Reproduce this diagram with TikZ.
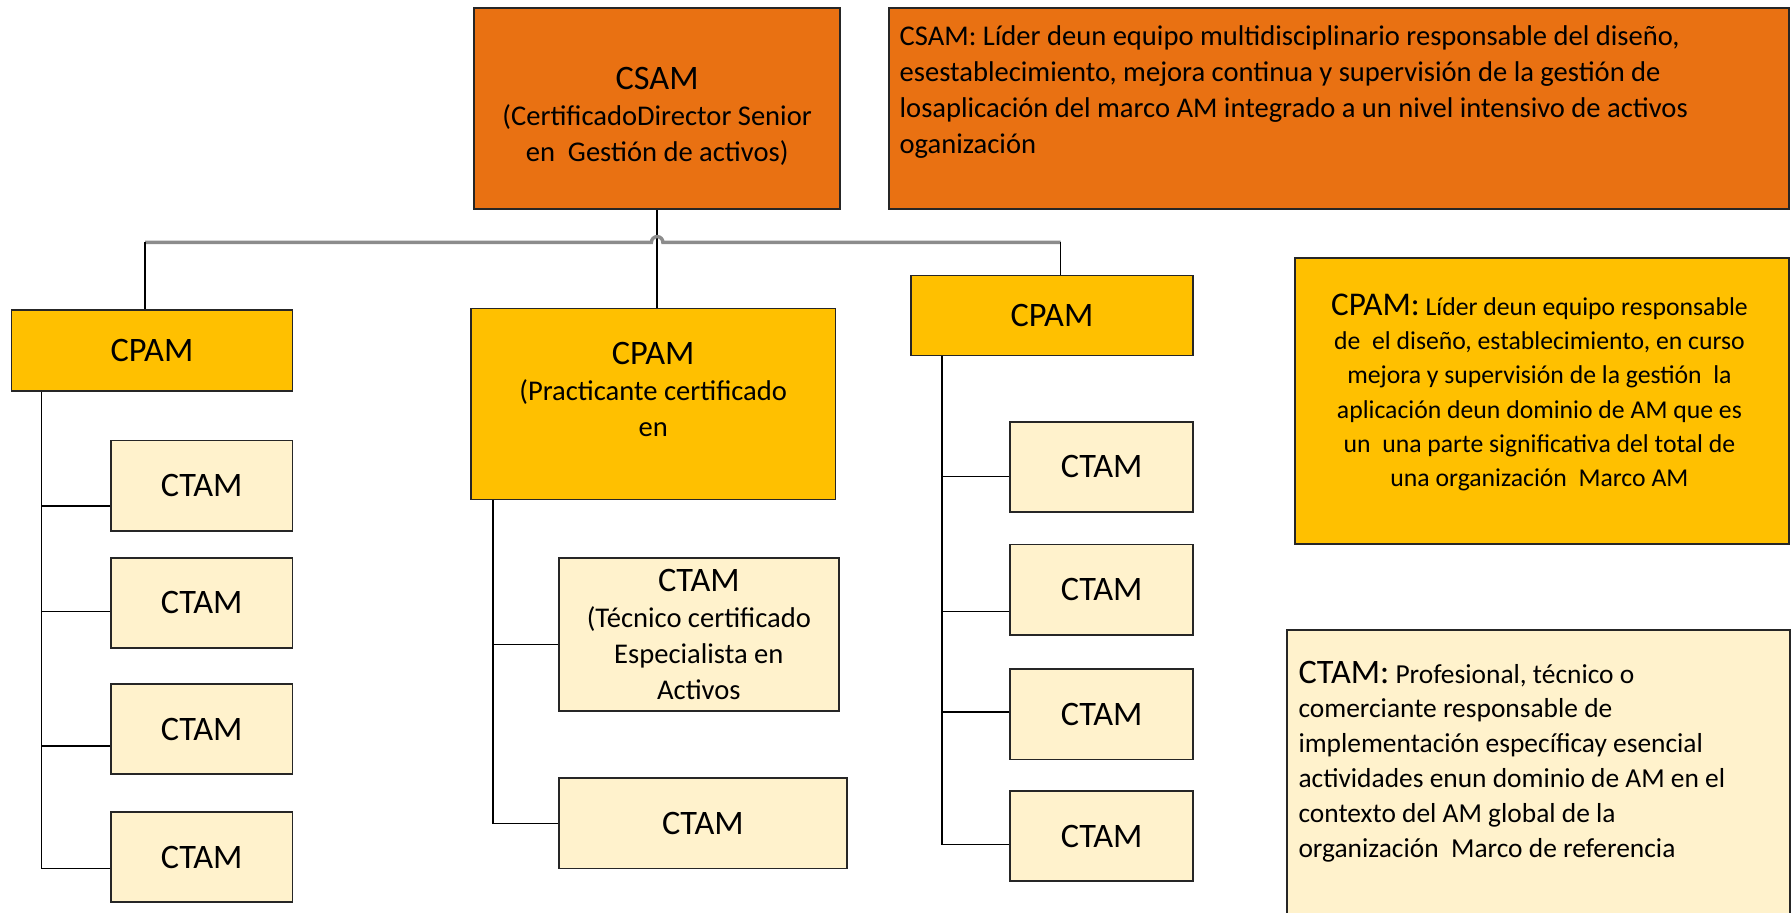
\documentclass[tikz,border=0pt]{standalone}
\usepackage{fontspec}
\setmainfont{Carlito}
\usepackage{xcolor}
\definecolor{csamorange}{HTML}{E97112}
\definecolor{cpamgold}{HTML}{FFC000}
\definecolor{ctamcream}{HTML}{FFF2CC}
\definecolor{busgray}{HTML}{8C8C8C}
\definecolor{edgeblack}{HTML}{262626}
\newcommand{\certname}[1]{{\fontsize{30}{31.5}\selectfont #1}}

\begin{document}
\begin{tikzpicture}[x=1pt,y=-1pt]
			%\draw[help lines] (0,0) grid (1568,798);
			\useasboundingbox (0,0) rectangle (1568,798);
			
			\tikzset{
				box/.style={draw=edgeblack, line width=1.6pt, inner sep=0pt, align=center,
					font=\fontsize{25}{31.5}\selectfont},
				csambox/.style={box, fill=csamorange},
				cpambox/.style={box, fill=cpamgold},
				ctambox/.style={box, fill=ctamcream, minimum width=159pt, minimum height=79pt},
				boxtext/.style={inner sep=0pt, align=center, font=\fontsize{25}{31.5}\selectfont},
				notetext/.style={inner sep=0pt, align=left, font=\fontsize{25}{31.5}\selectfont},
				link/.style={draw=black, line width=1.5pt},
				bus/.style={draw=busgray, line width=3pt}}
			
			% top level
			\node[csambox, minimum width=320pt, minimum height=176pt] (csam) at (575,95) {};
			\node[boxtext] (csamlbl) at (575,101.5)
				{\certname{CSAM}\\(CertificadoDirector Senior\\en\ \ Gestión de activos)};
			
			\node[csambox, minimum width=787pt, minimum height=176pt] (csamnote) at (1171.5,95) {};
			\node[notetext, anchor=north west] (csamnotetxt) at (787,22)
				{CSAM: Líder deun equipo multidisciplinario responsable del diseño,\\
				esestablecimiento, mejora continua y supervisión de la gestión de\\
				losaplicación del marco AM integrado a un nivel intensivo de activos\\
				oganización};
			
			% second level
			\node[cpambox, minimum width=246pt, minimum height=71pt] (cpamL) at (133,306.5) {\certname{CPAM}};
			\node[cpambox, minimum width=319pt, minimum height=167pt] (cpamM) at (571.5,353.5) {};
			\node[boxtext] (cpamMlbl) at (571.5,341)
				{\certname{CPAM}\\(Practicante certificado\\en};
			\node[cpambox, minimum width=247pt, minimum height=70pt] (cpamR) at (920.5,276) {\certname{CPAM}};
			
			\node[cpambox, minimum width=432pt, minimum height=250pt] (cpamnote) at (1349,351) {};
			\node[boxtext, font=\fontsize{22.5}{30}\selectfont] (cpamnotetxt) at (1347,343.5)
				{{\fontsize{29}{30}\selectfont CPAM:} Líder deun equipo responsable\\
				de\ \ el diseño, establecimiento, en curso\\
				mejora y supervisión de la gestión\ \ la\\
				aplicación deun dominio de AM que es\\
				un\ \ una parte significativa del total de\\
				una organización\ \ Marco AM};
			
			% third level
			\node[ctambox] (lA) at (176.5,425) {\certname{CTAM}};
			\node[ctambox] (lB) at (176.5,527.5) {\certname{CTAM}};
			\node[ctambox] (lC) at (176.5,638) {\certname{CTAM}};
			\node[ctambox] (lD) at (176.5,750) {\certname{CTAM}};
			
			\node[ctambox, minimum width=245pt, minimum height=134pt] (mA) at (611.5,555)
				{\certname{CTAM}\\(Técnico certificado\\Especialista en\\Activos};
			\node[ctambox, minimum width=252pt] (mB) at (615,720.5) {\certname{CTAM}};
			
			\node[ctambox, minimum width=160pt] (rA) at (964,408.5) {\certname{CTAM}};
			\node[ctambox, minimum width=160pt] (rB) at (964,516) {\certname{CTAM}};
			\node[ctambox, minimum width=160pt] (rC) at (964,625) {\certname{CTAM}};
			\node[ctambox, minimum width=160pt] (rD) at (964,731.5) {\certname{CTAM}};
			
			\node[ctambox, minimum width=440pt, minimum height=254pt] (ctamnote) at (1346,678) {};
			\node[notetext, font=\fontsize{24}{30.5}\selectfont, anchor=north west] (ctamnotetxt) at (1136,578)
				{{\fontsize{30}{30.5}\selectfont CTAM:} Profesional, técnico o\\
				comerciante responsable de\\
				implementación específicay esencial\\
				actividades enun dominio de AM en el\\
				contexto del AM global de la\\
				organización\ \ Marco de referencia};
			
			% bus
			\coordinate (busL) at (127,212);
			\coordinate (busR) at (928,212);
			\coordinate (hopL) at (570,212);
			
			\draw[link] (csam.south) -- (csam.south |- cpamM.north);
			\draw[bus] (busL) -- (hopL) arc[start angle=180, end angle=0, radius=5pt] -- (busR);
			\draw[link] (busL) -- (busL |- cpamL.north);
			\draw[link] (busR) -- (busR |- cpamR.north);
			
			% spines
			\coordinate (spineL) at ([xshift=27pt]cpamL.south west);
			\coordinate (spineM) at ([xshift=20pt]cpamM.south west);
			\coordinate (spineR) at ([xshift=28pt]cpamR.south west);
			
			\coordinate (tapLA) at ([yshift=-18pt]lA.west);
			\coordinate (tapLB) at ([yshift=-7.5pt]lB.west);
			\coordinate (tapLC) at ([yshift=-15pt]lC.west);
			\coordinate (tapLD) at ([yshift=-10pt]lD.west);
			\coordinate (tapMA) at ([yshift=-9pt]mA.west);
			\coordinate (tapMB) at (mB.west);
			\coordinate (tapRA) at ([yshift=-8.5pt]rA.west);
			\coordinate (tapRB) at ([yshift=-19pt]rB.west);
			\coordinate (tapRC) at ([yshift=2pt]rC.west);
			\coordinate (tapRD) at ([yshift=-7.5pt]rD.west);
			
			\draw[link] (spineL) |- (tapLD);
			\draw[link] (tapLA -| spineL) -- (tapLA);
			\draw[link] (tapLB -| spineL) -- (tapLB);
			\draw[link] (tapLC -| spineL) -- (tapLC);
			
			\draw[link] (spineM) |- (tapMB);
			\draw[link] (tapMA -| spineM) -- (tapMA);
			
			\draw[link] (spineR) |- (tapRD);
			\draw[link] (tapRA -| spineR) -- (tapRA);
			\draw[link] (tapRB -| spineR) -- (tapRB);
			\draw[link] (tapRC -| spineR) -- (tapRC);
			
\end{tikzpicture}
\end{document}
